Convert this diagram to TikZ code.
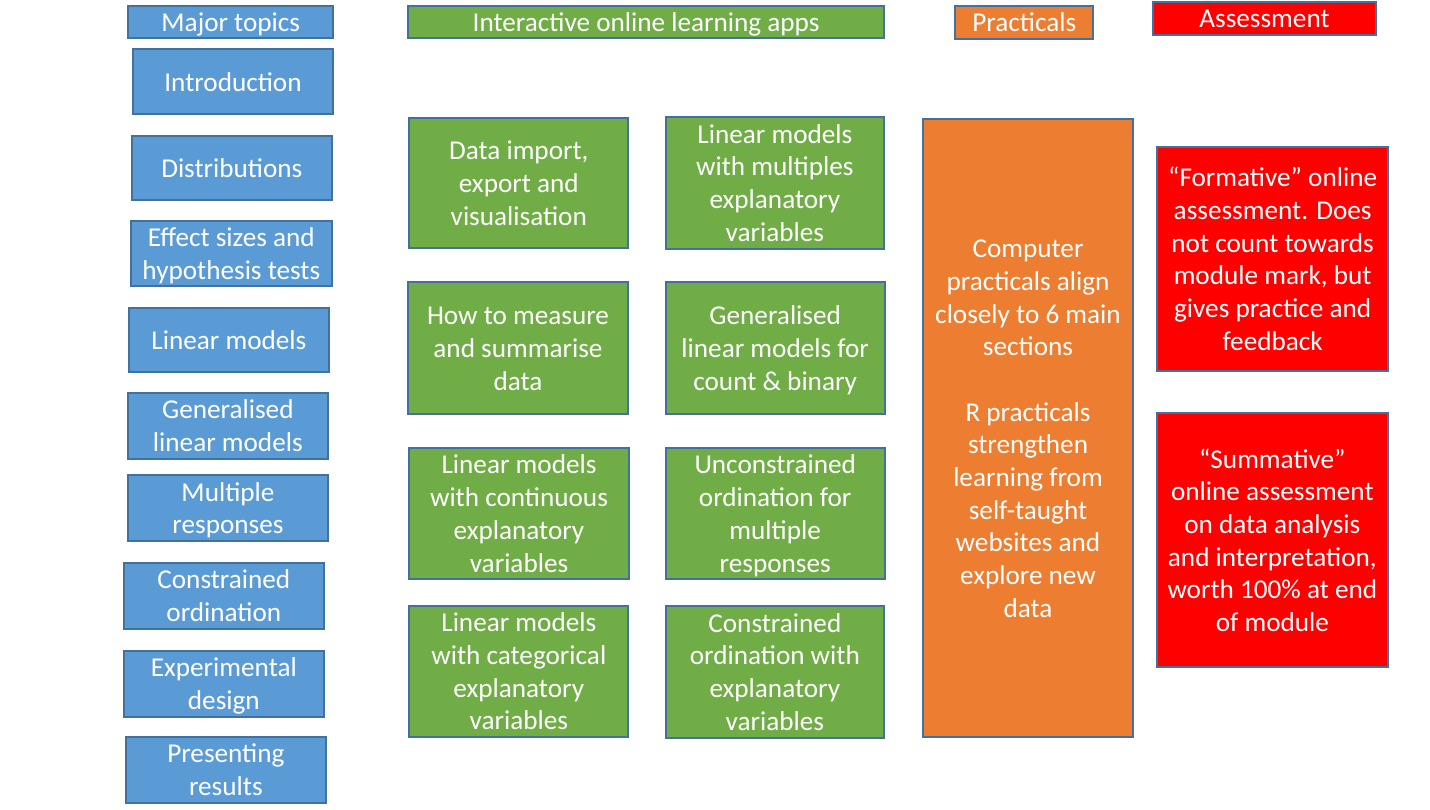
\documentclass[tikz,border=0pt]{standalone}
\usepackage{fontspec}
\setmainfont{Carlito}
\definecolor{topicblue}{HTML}{5B9BD5}
\definecolor{appgreen}{HTML}{70AD47}
\definecolor{pracorange}{HTML}{ED7D31}
\definecolor{assessred}{HTML}{FF0000}
\definecolor{edgeblue}{HTML}{41719C}
% strut giving the first and last text lines a fixed height and depth
\newcommand\linestrut{\rule[-6.9pt]{0pt}{32.7pt}}
% \cellbox{name}{left}{top}{right}{bottom}{options}{text}
\newcommand\cellbox[7]{%
  \node[box, #6, minimum width={#4-#2-2}, minimum height={#5-#3-2}]
    (#1) at ({(#2+#4)/2},{(#3+#5)/2}) {\linestrut #7\linestrut};}
\begin{document}
\begin{tikzpicture}[x=1pt,y=-1pt,
  box/.style={draw=edgeblue, line width=2pt, rectangle, inner sep=0pt,
    align=center, text=white,
    font=\fontsize{27.2}{32.7}\selectfont},
  topic/.style={fill=topicblue},
  app/.style={fill=appgreen},
  prac/.style={fill=pracorange},
  assess/.style={fill=assessred}]
\useasboundingbox (0,0) rectangle (1430,810);

% column headings
\cellbox{hTopics}{127.3}{6}{334.3}{38.3}{topic}{Major topics}
\cellbox{hApps}{407.3}{6}{885}{38.3}{app}{Interactive online learning apps}
\cellbox{hPrac}{954.3}{6.7}{1094.3}{38.3}{prac}{Practicals}
\cellbox{hAssess}{1151.7}{2.7}{1377.3}{34.3}{assess}{Assessment}

% major topics
\cellbox{tIntro}{131.7}{48.3}{334.3}{115}{topic}{Introduction}
\cellbox{tDist}{130.7}{135}{333}{201}{topic}{Distributions}
\cellbox{tEffect}{129.7}{220.7}{333}{286.7}{topic}{Effect sizes and\\hypothesis tests}
\cellbox{tLinear}{127.7}{306.7}{330}{372.7}{topic}{Linear models}
\cellbox{tGlm}{126.7}{392.7}{329}{459}{topic}{Generalised\\linear models}
\cellbox{tMulti}{126.7}{475}{329.3}{541}{topic}{Multiple\\responses}
\cellbox{tConstr}{122.7}{562.7}{325}{629}{topic}{Constrained\\ordination}
\cellbox{tExper}{122.7}{650.7}{325}{717}{topic}{Experimental\\design}
\cellbox{tPresent}{124.7}{736.7}{327}{803}{topic}{Presenting\\results}

% learning apps, first column
\cellbox{aData}{408.3}{116.7}{629.3}{249.3}{app}{Data import,\\export and\\visualisation}
\cellbox{aMeasure}{407.3}{280.7}{628.7}{415.3}{app}{How to measure\\and summarise\\data}
\cellbox{aCont}{408.3}{446.7}{629.7}{580.3}{app}{Linear models\\with continuous\\explanatory\\variables}
\cellbox{aCat}{408.3}{604.7}{629.3}{738}{app}{Linear models\\with categorical\\explanatory\\variables}

% learning apps, second column
\cellbox{aMultiExp}{664.7}{115.7}{885}{250}{app}{Linear models\\with multiples\\explanatory\\variables}
\cellbox{aGlm}{664.7}{280.7}{885.7}{415.3}{app}{Generalised\\linear models for\\count \& binary}
\cellbox{aUncon}{664.7}{446.7}{885.7}{580.3}{app}{Unconstrained\\ordination for\\multiple\\responses}
\cellbox{aConstr}{664.7}{605}{885}{738.5}{app}{Constrained\\ordination with\\explanatory\\variables}

% practicals
\cellbox{pComp}{921.7}{117.7}{1134.3}{738.3}{prac}{Computer\\practicals align\\closely to 6 main\\sections\\[32.7pt]R practicals\\strengthen\\learning from\\self-taught\\websites and\\explore new\\data}

% assessment
\cellbox{sForm}{1156}{145.7}{1389.3}{372.3}{assess}{“Formative” online\\assessment. Does\\not count towards\\module mark, but\\gives practice and\\feedback}
\cellbox{sSumm}{1155.7}{412.3}{1389}{668.3}{assess}{“Summative”\\online assessment\\on data analysis\\and interpretation,\\worth 100\% at end\\of module}
\end{tikzpicture}
\end{document}
